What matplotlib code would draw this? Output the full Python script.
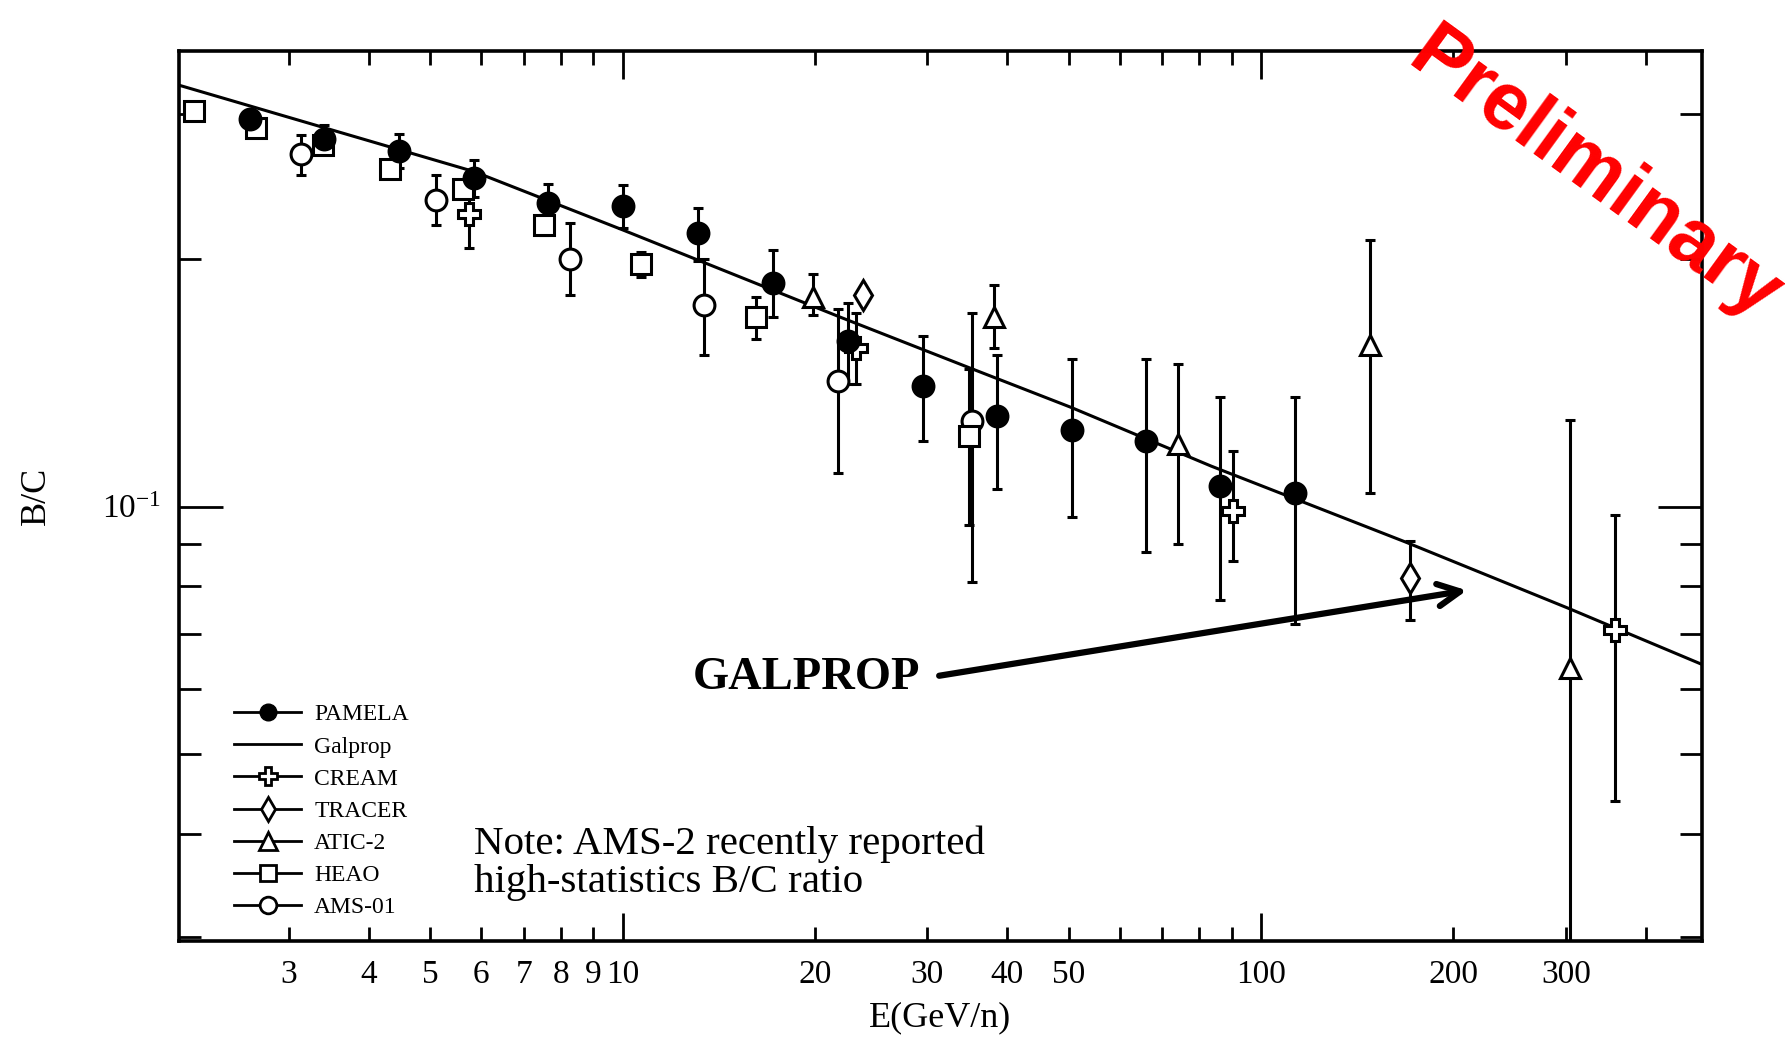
import matplotlib
matplotlib.use("Agg")
import matplotlib.pyplot as plt
from matplotlib.lines import Line2D
from matplotlib.ticker import NullFormatter, FixedLocator

plt.rcParams['font.family'] = ['Liberation Serif', 'DejaVu Serif']
plt.rcParams['mathtext.default'] = 'regular'

# --- data (E in GeV/n, B/C ratio) ---
galprop_E = [2.03, 5.85, 10.0, 21.9, 35.3, 50.4, 83.5, 168, 303, 492]
galprop_BC = [0.325, 0.2555, 0.217, 0.170, 0.147, 0.132, 0.112, 0.0906, 0.0752, 0.0642]

pamela_E = [2.61, 3.41, 4.47, 5.85, 7.64, 10.0, 13.1, 17.2, 22.5, 29.5, 38.6, 50.5, 66.0, 86.3, 113.0]
pamela_BC = [0.296, 0.280, 0.271, 0.251, 0.234, 0.232, 0.215, 0.187, 0.159, 0.140, 0.129, 0.124, 0.120, 0.106, 0.104]
pamela_lo = [0.005, 0.011, 0.013, 0.013, 0.013, 0.014, 0.016, 0.017, 0.018, 0.020, 0.024, 0.027, 0.032, 0.029, 0.032]
pamela_hi = [0.005, 0.011, 0.013, 0.013, 0.013, 0.014, 0.016, 0.018, 0.018, 0.021, 0.024, 0.027, 0.031, 0.030, 0.032]

heao_E = [2.13, 2.67, 3.39, 4.32, 5.63, 7.54, 10.7, 16.2, 34.9]
heao_BC = [0.303, 0.289, 0.275, 0.257, 0.243, 0.220, 0.197, 0.170, 0.122]
heao_lo = [0.004, 0.005, 0.005, 0.006, 0.006, 0.006, 0.007, 0.010, 0.027]
heao_hi = [0.004, 0.005, 0.005, 0.006, 0.006, 0.006, 0.007, 0.010, 0.025]

ams_E = [3.14, 5.10, 8.26, 13.4, 21.7, 35.2]
ams_BC = [0.268, 0.236, 0.200, 0.176, 0.142, 0.127]
ams_lo = [0.015, 0.016, 0.019, 0.023, 0.032, 0.046]
ams_hi = [0.015, 0.017, 0.021, 0.024, 0.032, 0.045]

cream_E = [5.74, 23.2, 90.3, 358]
cream_BC = [0.227, 0.156, 0.0988, 0.0708]
cream_lo = [0.021, 0.015, 0.013, 0.027]
cream_hi = [0.019, 0.016, 0.018, 0.027]

tracer_E = [23.8, 171]
tracer_BC = [0.181, 0.0818]
tracer_lo = [0.0, 0.009]
tracer_hi = [0.0, 0.009]

atic_E = [19.9, 38.2, 74.1, 148, 304]
atic_BC = [0.180, 0.170, 0.119, 0.157, 0.0636]
atic_lo = [0.009, 0.014, 0.029, 0.053, 0.036]
atic_hi = [0.012, 0.016, 0.030, 0.054, 0.064]

xtick_pos = [3, 4, 5, 6, 7, 8, 9, 20, 30, 40, 50, 60, 70, 80, 90, 200, 300, 400]
xtick_lab = ['3', '4', '5', '6', '7', '8', '9', '20', '30', '40', '50', '', '', '', '', '200', '300', '']
ytick_minor = [0.03, 0.04, 0.05, 0.06, 0.07, 0.08, 0.09, 0.2, 0.3]

fig = plt.figure(figsize=(17.85, 10.42), dpi=100)
ax = fig.add_axes([0.1003, 0.0965, 0.8532, 0.8545])
ax.set_xscale('log')
ax.set_yscale('log')
ax.set_xlim(2.02, 490)
ax.set_ylim(0.0296, 0.358)

ax.plot(galprop_E, galprop_BC, color='k', lw=2.2, zorder=2)

eb = dict(color='k', lw=0, elinewidth=2.2, capsize=3.5, capthick=2.2, mew=2.2, zorder=3)
ax.errorbar(ams_E, ams_BC, yerr=[ams_lo, ams_hi], fmt='o', ms=15, mfc='white', mec='k', **eb)
ax.errorbar(heao_E, heao_BC, yerr=[heao_lo, heao_hi], fmt='s', ms=14, mfc='white', mec='k', **eb)
ax.errorbar(atic_E, atic_BC, yerr=[atic_lo, atic_hi], fmt='^', ms=15, mfc='white', mec='k', **eb)
ax.errorbar(tracer_E, tracer_BC, yerr=[tracer_lo, tracer_hi], fmt='d', ms=15, mfc='white', mec='k', **eb)
ax.errorbar(cream_E, cream_BC, yerr=[cream_lo, cream_hi], fmt='P', ms=16, mfc='white', mec='k', **eb)
ax.errorbar(pamela_E, pamela_BC, yerr=[pamela_lo, pamela_hi], fmt='o', ms=15, mfc='k', mec='k', **eb)

# ticks
ax.xaxis.set_major_locator(FixedLocator([10, 100]))
ax.set_xticklabels(['10', '100'])
ax.xaxis.set_minor_locator(FixedLocator(xtick_pos))
ax.set_xticklabels(xtick_lab, minor=True)
ax.yaxis.set_major_locator(FixedLocator([0.1]))
ax.set_yticklabels(['$10^{-1}$'])
ax.yaxis.set_minor_locator(FixedLocator(ytick_minor))
ax.yaxis.set_minor_formatter(NullFormatter())

ax.tick_params(axis='both', which='both', direction='in', top=True, right=True,
               width=2, labelsize=24, pad=13)
ax.tick_params(axis='x', which='major', length=20)
ax.tick_params(axis='x', which='minor', length=10)
ax.tick_params(axis='y', which='major', length=32)
ax.tick_params(axis='y', which='minor', length=16)
for s in ax.spines.values():
    s.set_linewidth(2.6)

ax.set_xlabel('E(GeV/n)', fontsize=26, labelpad=8)
ax.set_ylabel('B/C', fontsize=26, labelpad=35)

# legend
handles = [
    Line2D([], [], color='k', lw=2, marker='o', ms=12, mfc='k', mec='k'),
    Line2D([], [], color='k', lw=2),
    Line2D([], [], color='k', lw=2, marker='P', ms=13, mfc='white', mec='k', mew=2),
    Line2D([], [], color='k', lw=2, marker='d', ms=12, mfc='white', mec='k', mew=2),
    Line2D([], [], color='k', lw=2, marker='^', ms=13, mfc='white', mec='k', mew=2),
    Line2D([], [], color='k', lw=2, marker='s', ms=12, mfc='white', mec='k', mew=2),
    Line2D([], [], color='k', lw=2, marker='o', ms=12, mfc='white', mec='k', mew=2),
]
labels = ['PAMELA', 'Galprop', 'CREAM', 'TRACER', 'ATIC-2', 'HEAO', 'AMS-01']
ax.legend(handles, labels, loc='lower left', bbox_to_anchor=(0.036, 0.026),
          frameon=False, fontsize=17, handlelength=2.85, handletextpad=0.55,
          labelspacing=0.45, borderpad=0, borderaxespad=0)

# annotations
ax.text(0.4865, 0.296, 'GALPROP', transform=ax.transAxes, ha='right', va='center',
        fontsize=33.5, fontweight='bold')
ax.annotate('', xy=(212, 0.0792), xytext=(31, 0.0622),
            arrowprops=dict(arrowstyle='->', lw=4.5, color='k', mutation_scale=40))
ax.text(0.1937, 0.0875, 'Note: AMS-2 recently reported\nhigh-statistics B/C ratio',
        transform=ax.transAxes, ha='left', va='center', fontsize=29.5, linespacing=1.05)

fig.text(0.893, 0.831, 'Preliminary', rotation=-36, color='red', fontsize=58,
         fontweight='bold', family='Liberation Sans', ha='center', va='center',
         rotation_mode='anchor')

fig.savefig('out.png', dpi=100)
